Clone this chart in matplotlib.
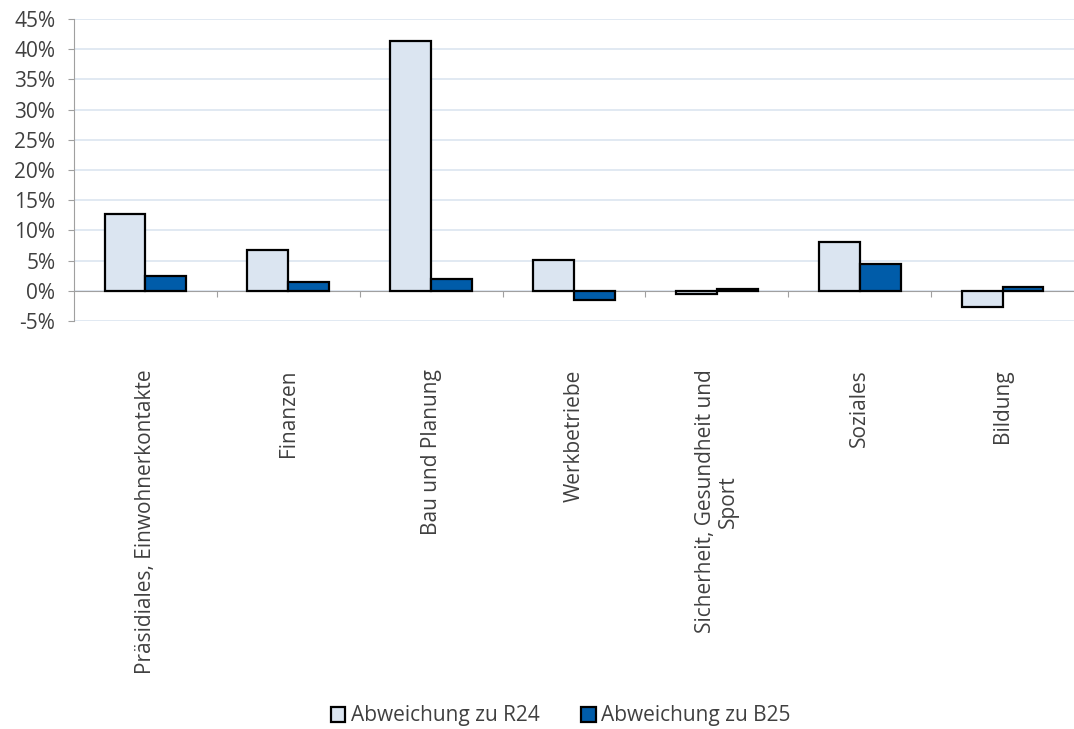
import matplotlib
matplotlib.use("Agg")
import matplotlib.pyplot as plt
import matplotlib.transforms as mtransforms
from matplotlib.patches import Patch
import numpy as np

categories = ["Präsidiales, Einwohnerkontakte", "Finanzen", "Bau und Planung",
              "Werkbetriebe", "Sicherheit, Gesundheit und\nSport", "Soziales", "Bildung"]
abw_r24 = [12.7, 6.8, 41.4, 5.1, -0.5, 8.1, -2.6]
abw_b25 = [2.5, 1.5, 1.9, -1.6, 0.3, 4.5, 0.7]
yticks = list(range(-5, 50, 5))
series_names = ["Abweichung zu R24", "Abweichung zu B25"]

c_light = "#dbe5f1"
c_dark = "#005ca9"
txt = "#404040"
plt.rcParams['font.family'] = ['Open Sans', 'DejaVu Sans']

fig = plt.figure(figsize=(10.74, 7.29), dpi=100)
ax = fig.add_axes([74/1074, 1-321/729, 1-74/1074, (321-19)/729])

x = np.arange(len(categories))
w = 0.286
ax.bar(x - w/2, abw_r24, w, color=c_light, edgecolor="black", linewidth=1.6, zorder=3)
ax.bar(x + w/2, abw_b25, w, color=c_dark, edgecolor="black", linewidth=1.6, zorder=3)

ax.set_xlim(-0.5, len(categories) - 0.5)
ax.set_ylim(-5, 45)
ax.set_yticks(yticks)
ax.set_yticklabels([f"{v}%" for v in yticks], fontsize=15, color=txt)
ax.yaxis.grid(True, color="#dce5f0", linewidth=1.2, zorder=0)
ax.set_axisbelow(True)

for s in ["top", "right"]:
    ax.spines[s].set_visible(False)
ax.spines["left"].set_color("#a0a0a0")
ax.spines["bottom"].set_color("#a0a0a0")
ax.spines["bottom"].set_position(("data", 0))
ax.spines["bottom"].set_zorder(2)
ax.tick_params(axis="y", length=4.5, color="#a0a0a0", pad=9)
ax.set_xticks(np.arange(0.5, len(categories) - 0.5, 1.0))
ax.tick_params(axis="x", length=4.5, color="#a0a0a0", labelbottom=False)

trans = mtransforms.blended_transform_factory(ax.transData, ax.transAxes)
for i, c in enumerate(categories):
    ax.annotate(c, xy=(i, 0), xycoords=trans, xytext=(0, -35), textcoords="offset points",
                rotation=90, ha="center", va="top", multialignment="center",
                fontsize=15, color=txt, linespacing=1.1)

handles = [Patch(facecolor=c_light, edgecolor="black", linewidth=1.6),
           Patch(facecolor=c_dark, edgecolor="black", linewidth=1.6)]
fig.legend(handles, series_names, loc="center", bbox_to_anchor=(0.522, 1-716/729),
           ncol=2, frameon=False, fontsize=15, handlelength=0.7, handleheight=0.7,
           handletextpad=0.25, columnspacing=2.0, labelcolor=txt)

fig.savefig("out.png", dpi=100)
